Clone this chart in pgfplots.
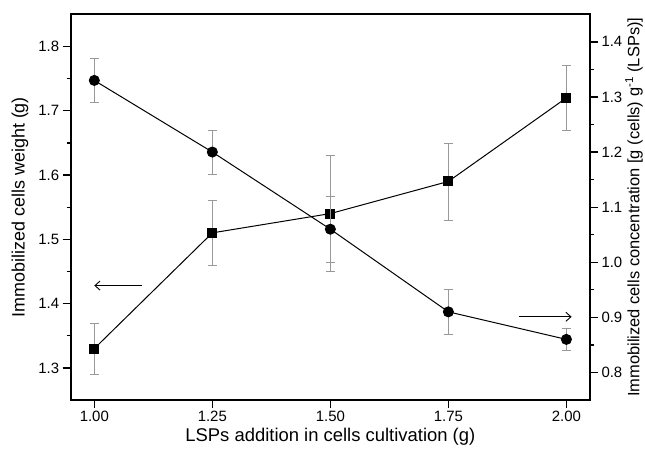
\documentclass[border=0pt]{standalone}
\usepackage{pgfplots}
\pgfplotsset{compat=1.18}
\usepackage{fontspec}
\setmainfont{Liberation Sans}
\usetikzlibrary{arrows.meta}
\begin{document}
\begin{tikzpicture}
\pgfplotsset{
  common/.style={
    scale only axis, width=519.3bp, height=385.7bp,
    xmin=0.95, xmax=2.05,
    tick align=outside, major tick length=8bp, minor tick length=4bp,
    every tick/.style={black, line width=1.3bp},
    tick label style={font=\fontsize{15}{18}\selectfont},
    /pgf/number format/assume math mode=true,
    axis line style={line width=1.8bp},
    label style={font=\fontsize{18}{21}\selectfont},
  },
  ebars/.style={
    error bars/.cd, y dir=both, y explicit,
    error bar style={gray!80, line width=0.7bp},
    error mark options={rotate=90, mark size=4.5bp, gray!80, line width=0.7bp},
  },
}
\begin{axis}[common,
  ymin=1.25, ymax=1.85,
  ytick={1.3,1.4,1.5,1.6,1.7,1.8}, minor y tick num=1,
  xtick={1,1.25,1.5,1.75,2},
  xtick pos=bottom, ytick pos=left,
  xticklabel style={/pgf/number format/.cd, fixed, fixed zerofill, precision=2},
  yticklabel style={/pgf/number format/.cd, fixed, fixed zerofill, precision=1},
  xlabel={LSPs addition in cells cultivation (g)},
  xlabel style={font=\fontsize{18.5}{21}\selectfont, anchor=center, at={(axis description cs:0.5,-0.096)}},
  ylabel={Immobilized cells weight (g)},
  ylabel style={anchor=center, at={(axis description cs:-0.0977,0.5)}},
]
\addplot[black, line width=1bp, mark=square*, mark size=4.5bp, mark options={solid, fill=black}, ebars]
  table[x=x, y=y, y error=e] {
x y e
1.00 1.33 0.04
1.25 1.51 0.05
1.50 1.54 0.09
1.75 1.59 0.06
2.00 1.72 0.05
};
\draw[line width=0.9bp, -{Straight Barb[length=5bp, width=9bp]}] (axis cs:1.10,1.428) -- (axis cs:1.0,1.428);
\end{axis}
\begin{axis}[common,
  ymin=0.75, ymax=1.45,
  ytick={0.8,0.9,1.0,1.1,1.2,1.3,1.4}, minor y tick num=1,
  axis y line*=right, axis x line=none,
  ytick pos=right,
  yticklabel style={/pgf/number format/.cd, fixed, fixed zerofill, precision=1},
  ylabel={Immobilized cells concentration [g (cells) g\textsuperscript{-1} (LSPs)]},
  ylabel style={font=\fontsize{16.5}{19}\selectfont, anchor=center, at={(axis description cs:1.0847,0.5)}},
]
\addplot[black, line width=1bp, mark=*, mark size=5bp, mark options={solid, fill=black}, ebars]
  table[x=x, y=y, y error=e] {
x y e
1.00 1.33 0.04
1.25 1.20 0.04
1.50 1.06 0.06
1.75 0.91 0.04
2.00 0.86 0.02
};
\draw[line width=0.9bp, -{Straight Barb[length=5bp, width=9bp]}] (axis cs:1.899,0.901) -- (axis cs:2.011,0.901);
\end{axis}
\pgfresetboundingbox
\path (current axis.south west) ++(-70.7bp,-54bp) rectangle ++(645bp,454bp);
\end{tikzpicture}
\end{document}
